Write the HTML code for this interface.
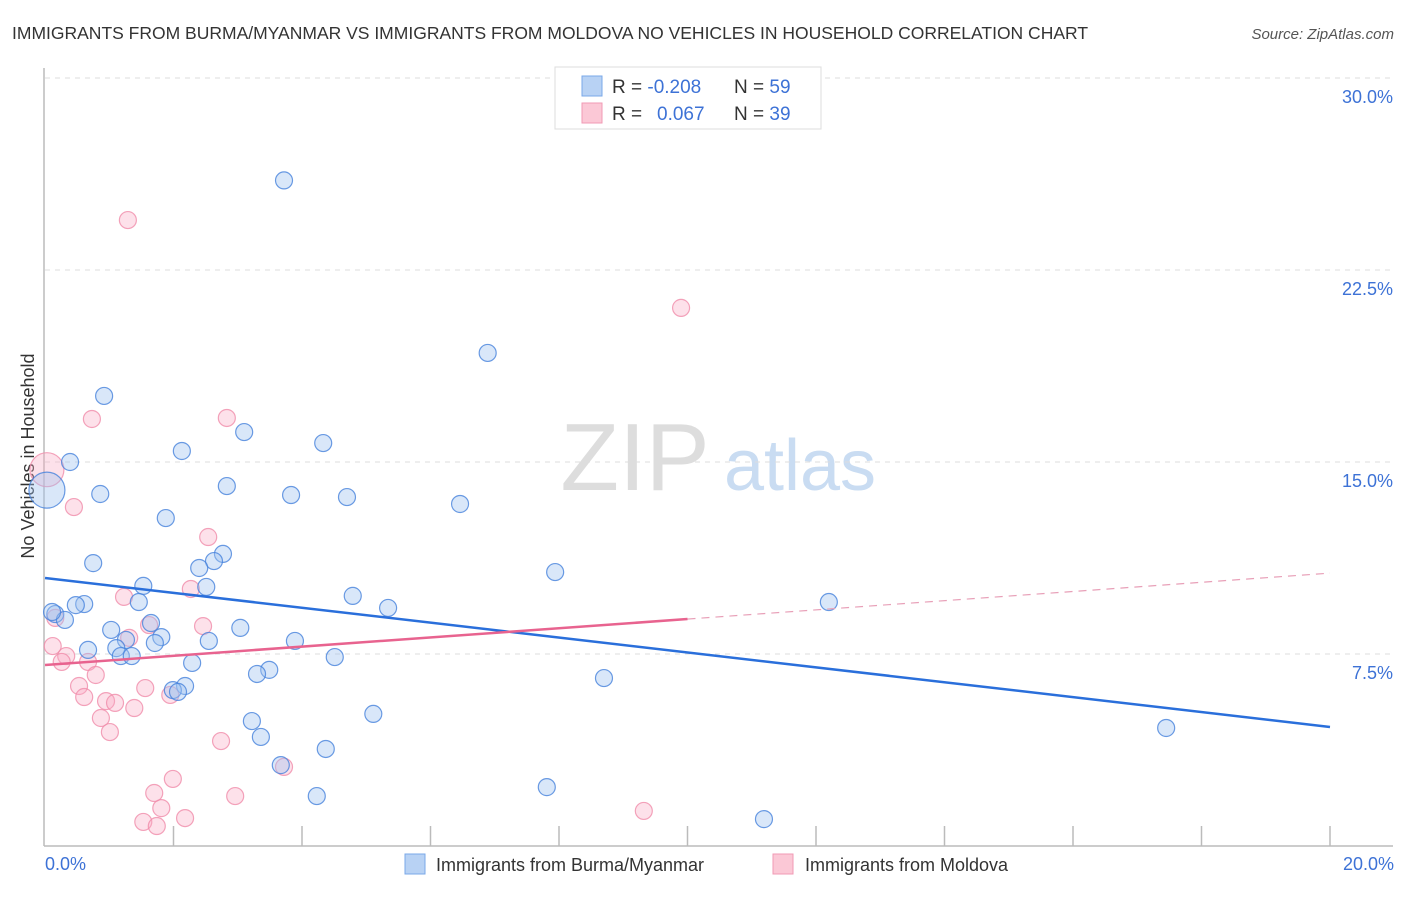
<!DOCTYPE html>
<html><head><meta charset="utf-8"><style>
body{margin:0;background:#fff;font-family:"Liberation Sans",sans-serif;}
svg text{font-family:"Liberation Sans",sans-serif;}
</style></head><body>
<svg id="chart" width="1406" height="892" xmlns="http://www.w3.org/2000/svg">
<text x="12" y="39" font-size="17.5" fill="#333">IMMIGRANTS FROM BURMA/MYANMAR VS IMMIGRANTS FROM MOLDOVA NO VEHICLES IN HOUSEHOLD CORRELATION CHART</text>
<text x="1394" y="39" font-size="15" fill="#555" font-style="italic" text-anchor="end">Source: ZipAtlas.com</text>
<text transform="translate(34,456) rotate(-90)" font-size="18" fill="#333" text-anchor="middle">No Vehicles in Household</text>
<g>
<text x="635" y="490" font-size="96" fill="#ddd" font-family="Liberation Serif" text-anchor="middle">ZIP</text>
<text x="800" y="490" font-size="72" fill="#c9dcf2" text-anchor="middle">atlas</text>
</g>
<g id="grid"></g><g id="axes"></g><g id="marks"></g>
<g>
<rect x="555" y="67" width="266" height="62" fill="#fff" stroke="#ddd"/>
<rect x="582" y="76" width="20" height="20" fill="#b8d2f4" stroke="#7aa8e8"/>
<rect x="582" y="103" width="20" height="20" fill="#fbc8d6" stroke="#f09ab4"/>
<text x="612" y="93" font-size="19" fill="#333">R = <tspan fill="#3d72d6">-0.208</tspan></text>
<text x="734" y="93" font-size="19" fill="#333">N = <tspan fill="#3d72d6">59</tspan></text>
<text x="612" y="120" font-size="19" fill="#333">R = <tspan fill="#3d72d6" x="657">0.067</tspan></text>
<text x="734" y="120" font-size="19" fill="#333">N = <tspan fill="#3d72d6">39</tspan></text>
</g>
<g>
<rect x="405" y="854" width="20" height="20" fill="#b8d2f4" stroke="#7aa8e8"/>
<text x="436" y="871" font-size="18" fill="#333">Immigrants from Burma/Myanmar</text>
<rect x="773" y="854" width="20" height="20" fill="#fbc8d6" stroke="#f09ab4"/>
<text x="805" y="871" font-size="18" fill="#333">Immigrants from Moldova</text>
</g>
</svg>
<script>
const yTicks=[7.5,15,22.5,30];
const yTickLabels=["7.5%","15.0%","22.5%","30.0%"];
const xTickLabels=["0.0%","20.0%"];
const burmaX=[3.72,6.89,0.92,3.10,4.33,2.13,0.39,2.83,0.86,3.83,4.70,6.46,1.88,2.77,2.63,0.75,2.40,7.94,1.53,2.51,4.79,0.61,1.46,0.48,12.20,5.34,0.16,0.31,1.65,3.04,1.03,1.81,3.89,2.55,1.26,1.71,1.11,0.67,1.18,1.35,4.51,2.29,3.49,3.30,8.70,2.18,1.99,2.07,5.11,3.22,17.45,3.36,4.37,3.67,7.81,4.23,11.19,0.11,0.03];
const burmaY=[26.0,19.26,17.58,16.17,15.74,15.43,15.0,14.06,13.75,13.71,13.63,13.36,12.81,11.41,11.13,11.05,10.86,10.70,10.16,10.12,9.77,9.45,9.53,9.41,9.53,9.30,9.06,8.83,8.71,8.52,8.44,8.16,8.01,8.01,8.05,7.93,7.73,7.66,7.42,7.42,7.38,7.15,6.88,6.72,6.56,6.25,6.09,6.02,5.16,4.88,4.61,4.26,3.79,3.16,2.30,1.95,1.05,9.14,13.9];
const moldX=[1.29,9.90,0.73,2.83,0.45,2.54,2.27,1.23,1.62,2.46,0.12,1.31,0.33,0.67,0.26,0.79,0.53,1.56,0.61,0.95,1.09,1.95,1.39,0.87,1.01,2.74,1.99,1.70,2.96,1.81,3.72,2.18,1.53,1.74,9.32,0.16,0.03];
const moldY=[24.45,21.02,16.68,16.72,13.24,12.07,10.04,9.73,8.63,8.59,7.81,8.13,7.42,7.19,7.19,6.68,6.25,6.17,5.82,5.66,5.59,5.90,5.39,5.0,4.45,4.10,2.62,2.07,1.95,1.48,3.09,1.09,0.94,0.78,1.37,8.91,14.7];
const burmaTrend=[10.47,4.65];
const moldTrend=[7.07,10.66];
const X0=45,X1=1330,Y0=846,PX=25.6;
const sx=v=>X0+(X1-X0)*v/20, sy=v=>Y0-v*PX;
const NS="http://www.w3.org/2000/svg";
function mk(tag,parent,attrs){const e=document.createElementNS(NS,tag);for(const k in attrs)e.setAttribute(k,attrs[k]);parent.appendChild(e);return e;}
const grid=document.getElementById('grid'),axes=document.getElementById('axes'),marks=document.getElementById('marks');
yTicks.forEach((t,i)=>{
 const l=mk('line',grid,{x1:X0,x2:1393,y1:sy(t),y2:sy(t),stroke:'#ddd','stroke-dasharray':'5,5'});
 
 
 const tx=mk('text',axes,{x:1393,y:sy(t)+25,'font-size':18,fill:'#3d72d6','text-anchor':'end'});
 tx.textContent=yTickLabels[i];
 
 
});
const ya=mk('line',axes,{x1:44,x2:44,y1:68,y2:Y0,stroke:'#bbb','stroke-width':1.5});


const xa=mk('line',axes,{x1:44,x2:1393,y1:Y0,y2:Y0,stroke:'#bbb','stroke-width':1.5});


for(let i=1;i<=10;i++){
 const t=mk('line',axes,{x1:sx(i*2),x2:sx(i*2),y1:826,y2:Y0,stroke:'#bbb','stroke-width':1.5});
 
 
}
[[0,'start',45],[20,'end',1394]].forEach((d,i)=>{
 const t=mk('text',axes,{x:d[2],y:870,'font-size':18,fill:'#3d72d6','text-anchor':d[1]});
 t.textContent=xTickLabels[i];
 
 
});
moldX.forEach((v,i)=>{
 const big=i===moldX.length-1;
 const c=mk('circle',marks,{cx:sx(v),cy:sy(moldY[i]),r:big?17:8.5,fill:'rgba(248,170,195,0.35)',stroke:'rgba(240,140,170,0.8)','stroke-width':1.2});
 
 
});
burmaX.forEach((v,i)=>{
 const big=i===burmaX.length-1;
 const c=mk('circle',marks,{cx:sx(v),cy:sy(burmaY[i]),r:big?18:8.5,fill:'rgba(160,195,240,0.4)',stroke:'rgba(70,130,220,0.8)','stroke-width':1.2});
 
 
});
const bl=mk('line',marks,{x1:sx(0),y1:sy(burmaTrend[0]),x2:sx(20),y2:sy(burmaTrend[1]),stroke:'#2a6fdb','stroke-width':2.5});


const mid=moldTrend[0]+(moldTrend[1]-moldTrend[0])*0.5;
const ml=mk('line',marks,{x1:sx(0),y1:sy(moldTrend[0]),x2:sx(10),y2:sy(mid),stroke:'#e8638f','stroke-width':2.5});


const md=mk('line',marks,{x1:sx(10),y1:sy(mid),x2:sx(20),y2:sy(moldTrend[1]),stroke:'#e8a0b8','stroke-width':1.2,'stroke-dasharray':'8,6'});


</script>
</body></html>
